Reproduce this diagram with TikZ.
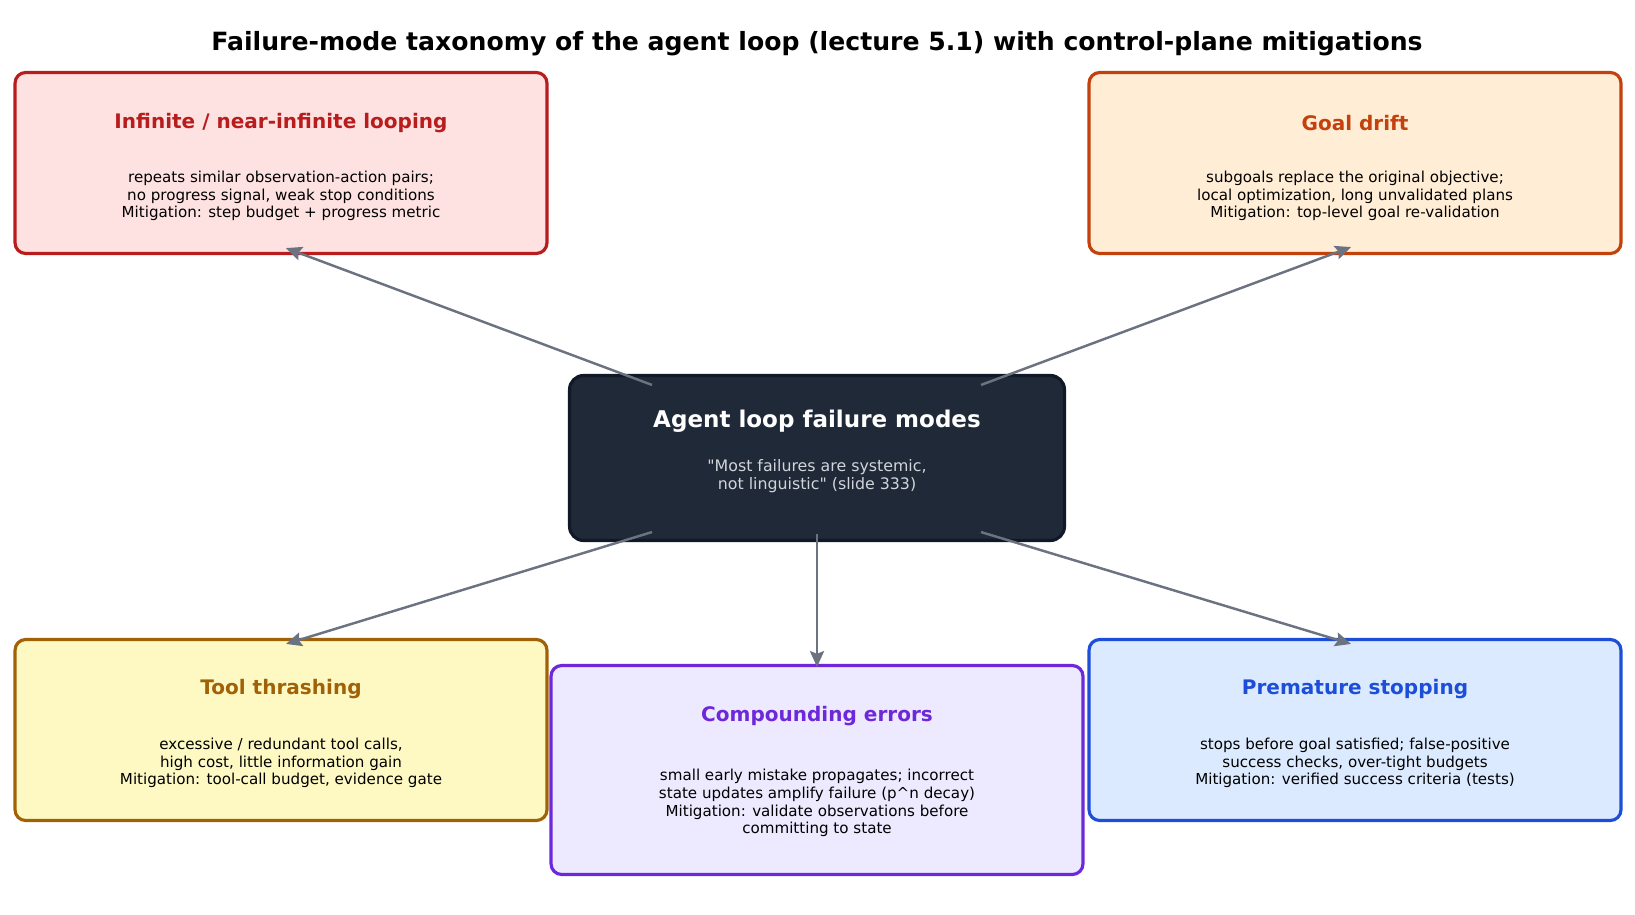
\documentclass[tikz,border=0pt]{standalone}
\usepackage{fontspec}
\setmainfont{DejaVu Sans}[Ligatures=TeXOff]
\usetikzlibrary{calc}
\usetikzlibrary{arrows.meta}

\definecolor{loopedge}{HTML}{B91C1C}
\definecolor{loopfill}{HTML}{FEE2E2}
\definecolor{driftedge}{HTML}{C2410C}
\definecolor{driftfill}{HTML}{FFEDD5}
\definecolor{thrashedge}{HTML}{A16207}
\definecolor{thrashfill}{HTML}{FEF9C3}
\definecolor{compedge}{HTML}{6D28D9}
\definecolor{compfill}{HTML}{EDE9FE}
\definecolor{stopedge}{HTML}{1D4ED8}
\definecolor{stopfill}{HTML}{DBEAFE}
\definecolor{coreedge}{HTML}{111827}
\definecolor{corefill}{HTML}{1F2937}
\definecolor{subtext}{HTML}{D1D5DB}
\definecolor{spokegray}{HTML}{6B7280}

\tikzstyle{modebox}=[draw,line width=1.8pt,rounded corners=6pt,inner sep=0pt,minimum width=10.64cm]
\tikzstyle{modetitle}=[font=\fontsize{11.4}{13}\selectfont\bfseries]
\tikzstyle{modetext}=[align=center,font=\fontsize{8.6}{10.1}\selectfont,text=black]
\tikzstyle{spoke}=[-{Stealth[length=9pt,width=8pt,inset=1.5pt]},line width=1.4pt,draw=spokegray]

% #1 name, #2 centre, #3 height, #4 colour prefix,
% #5 title offset, #6 text offset, #7 title, #8 text
\newcommand{\drawmode}[8]{
  \node[modebox,draw=#4edge,fill=#4fill,minimum height=#3] (#1) at #2 {};
  \node[modetitle,text=#4edge] (#1-title) at ($(#1.center)+(0,#5)$) {#7};
  \node[modetext] (#1-text) at ($(#1.center)+(0,#6)$) {#8};
}

\begin{document}
\begin{tikzpicture}[x=0.02cm,y=-0.02cm]
  \useasboundingbox (0,0) rectangle (1635,915);

  \node[font=\fontsize{14.3}{16}\selectfont\bfseries] (heading) at (817,44)
    {Failure-mode taxonomy of the agent loop (lecture 5.1) with control-plane mitigations};

  % centre
  \node[draw=coreedge,fill=corefill,line width=1.8pt,rounded corners=8pt,
        minimum width=9.9cm,minimum height=3.3cm] (core) at (817,458) {};
  \node[font=\fontsize{13.1}{15}\selectfont\bfseries,text=white] (core-title)
    at ($(core.center)+(0,-37)$) {Agent loop failure modes};
  \node[align=center,font=\fontsize{9}{10.3}\selectfont,text=subtext] (core-text)
    at ($(core.center)+(0,18)$) {"Most failures are systemic,\\not linguistic" (slide 333)};

  % failure modes
  \drawmode{loop}{(281,163)}{3.62cm}{loop}{-40}{33}{Infinite / near-infinite looping}
    {repeats similar observation-action pairs;\\no progress signal, weak stop conditions\\Mitigation: step budget + progress metric}
  \drawmode{drift}{(1355,163)}{3.62cm}{drift}{-40}{33}{Goal drift}
    {subgoals replace the original objective;\\local optimization, long unvalidated plans\\Mitigation: top-level goal re-validation}
  \drawmode{thrash}{(281,730)}{3.62cm}{thrash}{-41}{33}{Tool thrashing}
    {excessive / redundant tool calls,\\high cost, little information gain\\Mitigation: tool-call budget, evidence gate}
  \drawmode{comp}{(817,770)}{4.18cm}{comp}{-54}{33}{Compounding errors}
    {small early mistake propagates; incorrect\\state updates amplify failure (p\^{}n decay)\\Mitigation: validate observations before\\committing to state}
  \drawmode{stop}{(1355,730)}{3.62cm}{stop}{-41}{33}{Premature stopping}
    {stops before goal satisfied; false-positive\\success checks, over-tight budgets\\Mitigation: verified success criteria (tests)}

  % spokes
  \draw[spoke] ($(core.north west)+(84,11)$) -- ($(loop.south)+(5,-7)$);
  \draw[spoke] ($(core.north east)+(-85,11)$) -- ($(drift.south)+(-4,-8)$);
  \draw[spoke] ($(core.south west)+(84,-10)$) -- ($(thrash.north)+(5,6)$);
  \draw[spoke] ($(core.south)+(0,-8)$) -- ($(comp.north)+(0,3)$);
  \draw[spoke] ($(core.south east)+(-85,-10)$) -- ($(stop.north)+(-4,6)$);
\end{tikzpicture}
\end{document}
